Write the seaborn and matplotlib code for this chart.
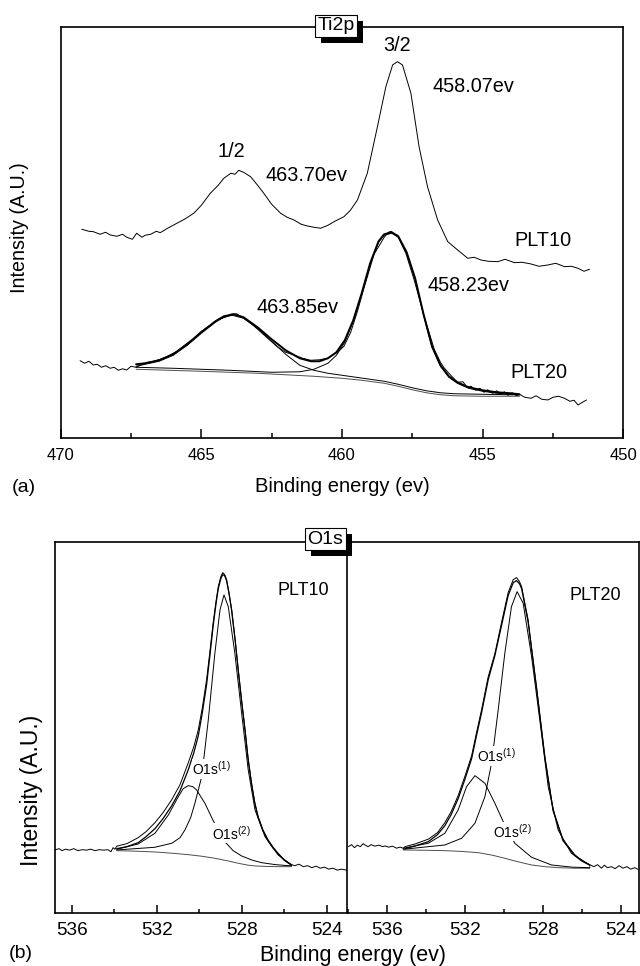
import numpy as np
import matplotlib
matplotlib.use('Agg')
import matplotlib.pyplot as plt
from matplotlib.patches import Rectangle
from matplotlib.transforms import IdentityTransform
from matplotlib.ticker import MultipleLocator
import seaborn as sns

# ---- Ti2p panel (a): (binding energy eV, intensity a.u.) ----
ti_plt10 = [(469.25, 209), (469.0, 207), (468.84, 206.6), (468.6, 204), (468.4, 206), (468.24, 203.3),
            (468.0, 202), (467.8, 204), (467.65, 201), (467.45, 199), (467.3, 205), (467.11, 201),
            (467.0, 203), (466.8, 204), (466.6, 207), (466.46, 205.6), (466.2, 210), (465.87, 215),
            (465.6, 219), (465.27, 225), (465.0, 233), (464.68, 245), (464.4, 253), (464.2, 260),
            (463.95, 265), (463.8, 264), (463.67, 268), (463.5, 266), (463.25, 261.6), (463.0, 253),
            (462.78, 245), (462.5, 234), (462.18, 225), (461.95, 221), (461.71, 218.3), (461.45, 214),
            (461.23, 212.3), (461.0, 211), (460.76, 210), (460.5, 213), (460.28, 216.6), (459.93, 221.6),
            (459.7, 228), (459.45, 238.3), (459.1, 265), (458.74, 311.6), (458.44, 351.6), (458.2, 373.3),
            (458.03, 376.6), (457.85, 373.3), (457.55, 345), (457.26, 291.6), (456.96, 251.6),
            (456.6, 218.3), (456.24, 196.6), (455.89, 188.3), (455.53, 180), (455.3, 181), (455.06, 178.3),
            (454.8, 177), (454.46, 176.6), (454.2, 179), (453.87, 175.6), (453.6, 176), (453.28, 174.3),
            (453.0, 172), (452.68, 173.3), (452.4, 175), (452.09, 171.6), (451.85, 172), (451.61, 170),
            (451.4, 167), (451.2, 169)]

ti_plt20 = [(469.31, 77.6), (469.15, 75), (469.0, 77), (468.84, 73.3), (468.7, 74), (468.55, 71),
            (468.4, 72.5), (468.24, 70), (468.1, 71), (467.95, 68), (467.8, 69.5), (467.65, 68.3),
            (467.5, 72), (467.32, 71), (467.1, 74), (466.9, 76), (466.7, 77), (466.46, 79), (466.2, 82),
            (465.87, 87), (465.6, 93), (465.27, 100), (465.0, 107), (464.68, 113), (464.4, 119),
            (464.15, 121), (463.97, 124), (463.75, 124.5), (463.49, 120), (463.2, 114), (462.9, 106.6),
            (462.6, 99), (462.3, 91.6), (462.0, 86), (461.71, 83.3), (461.4, 80), (461.12, 78),
            (460.8, 78.5), (460.52, 80), (460.16, 86), (459.93, 92), (459.69, 106), (459.45, 127),
            (459.22, 150), (458.86, 184), (458.5, 201), (458.35, 206), (458.26, 207), (458.15, 204),
            (458.03, 203), (457.73, 185), (457.43, 158), (457.08, 122), (456.72, 89), (456.5, 76),
            (456.36, 70), (456.1, 62), (455.89, 56), (455.7, 56.5), (455.55, 51), (455.41, 52),
            (455.25, 48), (455.1, 50), (454.95, 46), (454.82, 48.5), (454.65, 45), (454.5, 47.5),
            (454.35, 44), (454.23, 46.5), (454.1, 43), (453.95, 45.5), (453.8, 42.5), (453.69, 44),
            (453.5, 41), (453.28, 40), (453.1, 42.5), (452.9, 39), (452.68, 38.3), (452.5, 41),
            (452.3, 42), (452.09, 40), (451.9, 37), (451.75, 38), (451.61, 33.3), (451.45, 36),
            (451.31, 38.3)]

ti_fit = [(467.32, 74), (467.0, 75), (466.5, 78), (466.0, 84), (465.5, 94), (465.0, 106), (464.5, 117),
          (464.2, 122), (463.85, 124), (463.5, 121), (463.0, 111), (462.5, 99), (462.0, 88), (461.5, 80),
          (461.1, 77), (460.8, 77), (460.5, 80), (460.2, 86), (459.9, 98), (459.6, 118), (459.3, 145),
          (459.0, 175), (458.7, 197), (458.5, 204), (458.23, 206), (458.0, 202), (457.7, 186),
          (457.4, 160), (457.1, 124), (456.8, 92), (456.5, 73), (456.2, 62), (455.9, 56), (455.5, 51),
          (455.0, 48), (454.5, 46), (454.0, 45), (453.69, 44)]

ti_half = [(467.32, 72), (467.0, 74), (466.5, 77), (466.0, 83), (465.5, 93), (465.0, 105), (464.5, 116),
           (464.2, 121), (463.9, 123), (463.5, 120), (463.0, 110), (462.5, 97), (462.0, 84), (461.5, 73),
           (461.0, 68), (460.5, 65), (460.0, 63), (459.5, 61), (459.0, 59), (458.5, 57), (458.0, 54),
           (457.5, 50.5), (457.0, 47.5), (456.5, 45.5), (456.0, 44.5), (455.0, 44), (454.0, 43.5),
           (453.69, 43.5)]

ti_three_half = [(467.32, 71), (466.0, 70), (464.0, 68), (462.5, 66), (461.5, 66.5), (461.0, 69),
                 (460.5, 75), (460.2, 83), (459.9, 96), (459.6, 117), (459.3, 144), (459.0, 174),
                 (458.7, 196), (458.5, 203), (458.23, 205), (458.0, 201), (457.7, 185), (457.4, 159),
                 (457.1, 123), (456.8, 91), (456.5, 72), (456.2, 61), (455.9, 55), (455.5, 50),
                 (455.0, 47), (454.5, 45), (454.0, 44), (453.69, 43.5)]

ti_base = [(467.32, 69), (465.0, 67), (463.0, 65), (461.0, 62), (460.0, 60), (459.3, 58), (458.5, 55),
           (458.0, 52), (457.5, 48.5), (457.0, 45.5), (456.5, 43.5), (456.0, 42.5), (455.0, 42),
           (453.69, 42)]

# ---- O1s panel (b), PLT10 ----
o_plt10 = [(536.79, 62.7), (536.6, 64), (536.45, 62), (536.3, 63.5), (536.1, 62.5), (535.9, 64),
           (535.7, 62), (535.5, 63), (535.3, 62.5), (535.1, 63.5), (534.9, 62), (534.7, 63),
           (534.5, 62.5), (534.3, 63), (534.15, 61), (534.05, 65), (533.96, 63.4), (533.88, 66.5),
           (533.4, 69), (532.87, 75), (532.5, 81), (532.08, 90), (531.7, 100), (531.29, 113),
           (530.9, 128), (530.51, 150), (530.25, 166), (530.04, 183), (529.85, 205), (529.65, 233),
           (529.5, 260), (529.34, 290), (529.2, 312), (529.1, 326), (528.98, 336), (528.89, 340),
           (528.8, 338), (528.71, 333), (528.6, 320), (528.47, 303), (528.3, 272), (528.16, 243),
           (528.0, 212), (527.84, 183), (527.7, 155), (527.53, 129), (527.38, 110), (527.22, 96),
           (527.0, 83), (526.75, 72.7), (526.5, 65), (526.28, 59.4), (526.0, 53), (525.8, 50),
           (525.65, 48), (525.5, 47), (525.3, 48.5), (525.1, 46), (524.9, 47), (524.7, 45),
           (524.5, 46.5), (524.3, 44.5), (524.1, 45.5), (523.9, 43.5), (523.7, 44.5), (523.5, 42.5),
           (523.3, 43.5), (523.05, 42.5)]

o_fit10 = [(533.88, 64), (533.4, 66), (532.87, 70), (532.5, 76), (532.08, 84), (531.7, 94), (531.29, 107),
           (530.9, 122), (530.51, 143), (530.25, 160), (530.04, 177), (529.85, 200), (529.65, 228),
           (529.5, 256), (529.34, 287), (529.2, 310), (529.1, 324), (528.98, 334), (528.89, 338),
           (528.8, 337), (528.71, 332), (528.6, 320), (528.47, 302), (528.3, 271), (528.16, 242),
           (528.0, 211), (527.84, 182), (527.7, 154), (527.53, 128), (527.38, 109), (527.22, 95),
           (527.0, 82), (526.75, 71.5), (526.5, 64), (526.28, 58.5), (526.0, 52.5), (525.8, 49.5),
           (525.65, 47.5)]

o1_plt10 = [(533.88, 62.7), (532.08, 65.4), (531.29, 69.4), (530.9, 75), (530.67, 82.7), (530.4, 95),
            (530.2, 109.4), (529.88, 136), (529.57, 192.7), (529.26, 259.4), (529.02, 302.7),
            (528.83, 317.7), (528.63, 306), (528.32, 259.4), (528.0, 199.4), (527.69, 142.7),
            (527.37, 102.7), (526.9, 76), (526.28, 57.7), (525.65, 47.7)]

o2_plt10 = [(533.88, 63.4), (532.87, 68.7), (532.08, 79.4), (531.45, 97.7), (530.98, 116), (530.75, 124),
            (530.51, 127), (530.3, 126), (530.12, 122.7), (529.73, 109.4), (529.34, 92), (529.0, 79),
            (528.79, 71), (528.4, 62), (528.0, 56.7), (527.5, 52.5), (527.06, 50), (526.4, 48),
            (525.8, 47), (525.65, 47)]

o_base10 = [(533.88, 62), (533.0, 61.5), (532.08, 60.7), (531.3, 59.5), (530.51, 58), (529.9, 56.5),
            (529.26, 54.4), (528.7, 52), (528.16, 49.4), (527.7, 47.5), (527.37, 46.7), (526.8, 46.2),
            (526.2, 46), (525.65, 46), (525.65, 48)]

# ---- O1s panel (b), PLT20 ----
o_plt20 = [(537.96, 66), (537.8, 68), (537.65, 65), (537.5, 67.5), (537.35, 66), (537.2, 69),
           (537.11, 67.7), (536.95, 66), (536.8, 68), (536.6, 66.5), (536.4, 67.5), (536.2, 66),
           (536.09, 66.7), (535.9, 65.5), (535.7, 66.5), (535.5, 64.5), (535.3, 65.5), (535.15, 64.4),
           (535.06, 66), (534.5, 69), (533.87, 73.5), (533.4, 80), (533.02, 90), (532.7, 101),
           (532.34, 117), (532.0, 136), (531.65, 157), (531.4, 180), (531.14, 203), (530.8, 236),
           (530.46, 259), (530.12, 290), (529.78, 320), (529.52, 333), (529.35, 335), (529.2, 331),
           (529.09, 326), (528.76, 293), (528.33, 226), (527.9, 156), (527.48, 103), (526.97, 73),
           (526.37, 58), (526.0, 52), (525.6, 48), (525.4, 46), (525.2, 48), (525.0, 44.5),
           (524.85, 47.5), (524.7, 45), (524.49, 46), (524.3, 44), (524.1, 47), (523.9, 44.5),
           (523.7, 46), (523.5, 43.5), (523.3, 45), (523.13, 43.4)]

o_fit20 = [(535.06, 64), (534.5, 67), (533.87, 71), (533.4, 78), (533.02, 87), (532.7, 98), (532.34, 114),
           (532.0, 133), (531.65, 154), (531.4, 177), (531.14, 200), (530.8, 233), (530.46, 257),
           (530.12, 287), (529.78, 317), (529.52, 330), (529.35, 332), (529.2, 329), (529.09, 324),
           (528.76, 291), (528.33, 225), (527.9, 155), (527.48, 102), (526.97, 72), (526.37, 57),
           (526.0, 51.5), (525.6, 47.5)]

o1_plt20 = [(535.15, 63.4), (533.02, 67.7), (532.16, 74.4), (531.48, 89.4), (530.97, 116), (530.63, 149.4),
            (530.29, 202.7), (529.95, 259.4), (529.61, 306), (529.32, 321), (529.01, 309.4),
            (528.58, 256), (528.16, 192.7), (527.73, 126), (527.22, 82.7), (526.54, 59.4), (525.6, 47.7)]

o2_plt20 = [(535.15, 64.4), (533.87, 69.4), (533.02, 79.4), (532.34, 102.7), (531.91, 126), (531.48, 137),
            (530.97, 129.4), (530.46, 109.4), (530.03, 91), (529.44, 69.4), (528.58, 55.4),
            (527.56, 47.7), (526.5, 45.5), (525.6, 45)]

o_base20 = [(535.15, 62.7), (534.0, 62.4), (533.02, 62), (532.2, 61.3), (531.31, 60), (530.6, 57.5),
            (529.95, 54.4), (529.3, 51), (528.58, 47.7), (527.9, 46), (527.22, 45), (526.4, 44.5),
            (525.6, 44.4), (525.6, 47.7)]


sns.set_style('ticks')
plt.rcParams['font.family'] = ['Liberation Sans', 'DejaVu Sans']
plt.rcParams['mathtext.fontset'] = 'custom'
plt.rcParams['mathtext.rm'] = 'Liberation Sans'
plt.rcParams['mathtext.default'] = 'regular'
plt.rcParams['axes.linewidth'] = 1.2
plt.rcParams['text.color'] = 'black'
plt.rcParams['xtick.color'] = 'black'
plt.rcParams['axes.edgecolor'] = 'black'


def draw(ax, pts, lw=0.7, color='black'):
    e, h = np.array(pts).T
    sns.lineplot(x=e, y=h, ax=ax, color=color, linewidth=lw, sort=False,
                 estimator=None, legend=False)


def boxed(fig, x, y, s):
    # white label box with a black drop shadow to the lower right
    t = fig.text(x, y, s, fontsize=14, ha='center', va='center', color='black', zorder=6,
                 bbox=dict(boxstyle='square,pad=0.12', fc='white', ec='black', lw=0.8))
    fig.canvas.draw()
    bb = t.get_bbox_patch().get_window_extent()
    shadow = Rectangle((bb.x0 + 6, bb.y0 - 6), bb.width, bb.height, fc='black', ec='none',
                       transform=IdentityTransform(), zorder=5)
    fig.add_artist(shadow)


def style(ax, major, minor, ticksize, maj_len, min_len):
    ax.set_yticks([])
    ax.xaxis.set_major_locator(MultipleLocator(major))
    ax.xaxis.set_minor_locator(MultipleLocator(minor))
    ax.tick_params(axis='x', which='major', direction='in', length=maj_len, width=1.1,
                   labelsize=ticksize, pad=7, colors='black')
    ax.tick_params(axis='x', which='minor', direction='in', length=min_len, width=1.1)
    for sp in ax.spines.values():
        sp.set_visible(True)
        sp.set_color('black')
    ax.set_xlabel('')
    ax.set_ylabel('')


fig = plt.figure(figsize=(6.4, 9.66), dpi=100)

# panel (a)
ax = fig.add_axes([0.0948, 0.5463, 0.8791, 0.4261])
draw(ax, ti_plt10)
draw(ax, ti_plt20)
draw(ax, ti_base, color='0.3')
draw(ax, ti_half)
draw(ax, ti_three_half)
draw(ax, ti_fit, lw=1.4)
ax.set_xlim(470, 450)
ax.set_ylim(0, 411.6)
style(ax, 5, 2.5, 12, 6.5, 3.6)
txt = dict(fontsize=14.3, ha='center', va='center')
ax.text(463.94, 286.6, '1/2', **txt)
ax.text(458.03, 392.3, '3/2', **txt)
ax.text(461.26, 262.6, '463.70ev', **txt)
ax.text(455.33, 351.6, '458.07ev', **txt)
ax.text(452.87, 197.3, 'PLT10', **txt)
ax.text(455.50, 152.3, '458.23ev', **txt)
ax.text(461.58, 130.6, '463.85ev', **txt)
ax.text(453.01, 65.3, 'PLT20', **txt)

fig.text(0.5344, 1 - 487 / 966, 'Binding energy (ev)', fontsize=14.5, ha='center', va='center')
fig.text(24 / 640, 1 - 487 / 966, '(a)', fontsize=14, ha='center', va='center')
fig.text(20 / 640, 1 - 228 / 966, 'Intensity (A.U.)', fontsize=14.2, ha='center', va='center',
         rotation=90)

# panel (b)
lab = dict(fontsize=10, ha='center', va='center',
           bbox=dict(fc='white', ec='none', pad=0.6))
axl = fig.add_axes([0.0859, 0.0552, 0.4570, 0.3833])
draw(axl, o_plt10)
draw(axl, o_base10, color='0.3')
draw(axl, o2_plt10)
draw(axl, o1_plt10)
draw(axl, o_fit10, lw=0.9)
axl.set_xlim(536.786, 523.02)
axl.set_ylim(0, 370.2)
style(axl, 4, 2, 13.7, 5.5, 3.1)
axl.text(525.12, 322, 'PLT10', fontsize=13, ha='center', va='center')
axl.text(529.40, 143.5, r'O1s$^{(1)}$', zorder=5, **lab)
axl.text(528.50, 79.4, r'O1s$^{(2)}$', zorder=5, **lab)

axr = fig.add_axes([0.5430, 0.0552, 0.4559, 0.3833])
draw(axr, o_plt20)
draw(axr, o_base20, color='0.3')
draw(axr, o2_plt20)
draw(axr, o1_plt20)
draw(axr, o_fit20, lw=0.9)
axr.set_xlim(538.005, 523.064)
axr.set_ylim(0, 370.2)
style(axr, 4, 2, 13.7, 5.5, 3.1)
axr.spines['left'].set_visible(False)
axr.text(525.33, 316.7, 'PLT20', fontsize=13, ha='center', va='center')
axr.text(530.36, 156.5, r'O1s$^{(1)}$', zorder=5, **lab)
axr.text(529.57, 81, r'O1s$^{(2)}$', zorder=5, **lab)

fig.text(353 / 640, 1 - 956 / 966, 'Binding energy (ev)', fontsize=15.5, ha='center', va='center')
fig.text(21 / 640, 1 - 953 / 966, '(b)', fontsize=14, ha='center', va='center')
fig.text(32 / 640, 1 - 790 / 966, 'Intensity (A.U.)', fontsize=16.5, ha='center', va='center',
         rotation=90)

boxed(fig, 336 / 640, 1 - 26 / 966, 'Ti2p')
boxed(fig, 325.5 / 640, 1 - 539 / 966, 'O1s')

fig.savefig('out.png', dpi=100)
